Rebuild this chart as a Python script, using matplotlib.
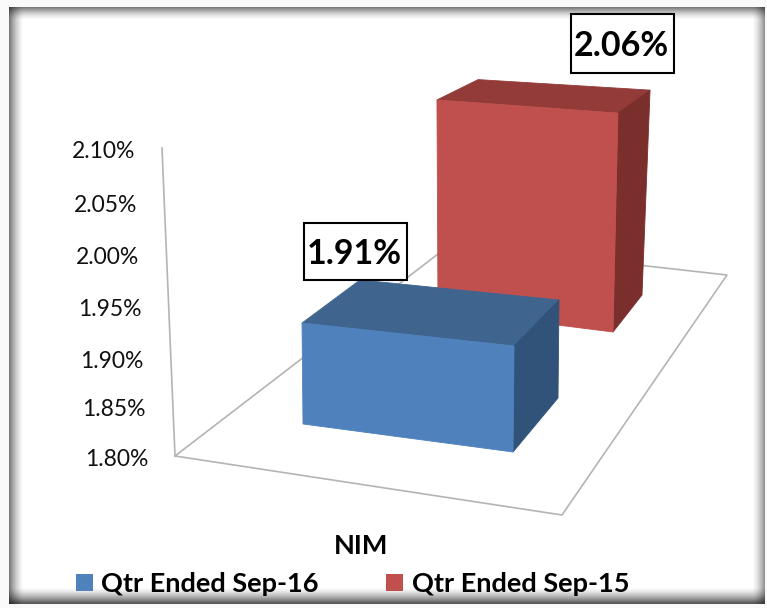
import numpy as np
import matplotlib
matplotlib.use("Agg")
import matplotlib.pyplot as plt
from matplotlib.patches import Polygon, Rectangle

# ---- data ----
categories = ["NIM"]
series_names = ["Qtr Ended Sep-16", "Qtr Ended Sep-15"]
series_values = [1.91, 2.06]
value_labels = ["1.91%", "2.06%"]
tick_values = [1.80, 1.85, 1.90, 1.95, 2.00, 2.05, 2.10]
tick_labels = ["1.80%", "1.85%", "1.90%", "1.95%", "2.00%", "2.05%", "2.10%"]

# ---- layout (pixel space of the picture) ----
W, H = 767, 608
BASE = 1.80
front_colors = ["#4F81BD", "#C0504D"]
top_colors = ["#3F658F", "#923B39"]
side_colors = ["#315379", "#7A2F2D"]
# footprint corner: base x, base y, px per unit of value, x drift per unit
footprints = [
    {"fl": (303, 424, 918, -9), "fr": (513, 452, 964, 9),
     "br": (558, 398, 891, 9), "bl": (360, 385, 955, 0)},
    {"fl": (438, 310, 808, -4), "fr": (613, 332, 842, 19),
     "br": (642, 295, 788, 31), "bl": (475, 285, 790, 12)},
]
label_boxes = [(304, 223, 103, 57), (571, 14, 103, 59)]
tick_y = [459, 410, 361, 309, 257, 205, 151]
floor_back_left = (175, 456)
axis_top = (162, 148)
floor = [(175, 456), (562, 515), (727, 275), (451, 244)]

plt.rcParams["font.family"] = ["Lato", "DejaVu Sans"]
fig = plt.figure(figsize=(W / 100, H / 100), dpi=100)
ax = fig.add_axes([0, 0, 1, 1])
ax.set_xlim(0, W)
ax.set_ylim(H, 0)
ax.axis("off")

# shadowed picture frame
xx, yy = np.meshgrid(np.arange(W) + 0.5, np.arange(H) + 0.5)
def fade(d, width, dark):
    return 1 - dark * np.clip(1 - d / width, 0, 1) ** 1.5
shade = (fade(xx - 9, 15, 0.55) * fade(yy - 7, 13, 0.55)
         * fade(765 - xx, 13, 0.45) * fade(603 - yy, 16, 0.65))
outside = (xx < 9) | (yy < 7) | (xx > 765) | (yy > 604)
shade[outside] = 0.98
ax.imshow(shade, cmap="gray", vmin=0, vmax=1, extent=(0, W, H, 0),
          aspect="auto", zorder=0, interpolation="bilinear")

# floor and wall line
line_style = dict(color="#b4b4b4", lw=1.2, zorder=1)
fx, fy = zip(*(floor + floor[:1]))
ax.plot(fx, fy, **line_style)
ax.plot([floor_back_left[0], axis_top[0]], [floor_back_left[1], axis_top[1]], **line_style)

# value axis labels
for v, lab, y in zip(tick_values, tick_labels, tick_y):
    frac = (v - BASE) / (tick_values[-1] - BASE)
    xr = floor_back_left[0] + (axis_top[0] - floor_back_left[0]) * frac - 27
    ax.text(xr, y, lab, ha="right", va="center", fontsize=16.5, color="#111111", zorder=3)

def lift(corner, value):
    x, y, ppu, drift = corner
    h = value - BASE
    return (x + drift * h, y - ppu * h)

def draw_bar(fp, value, cf, ct, cs, z):
    fl, fr, br, bl = fp["fl"], fp["fr"], fp["br"], fp["bl"]
    t = {k: lift(fp[k], value) for k in fp}
    faces = [
        ([t["bl"], t["br"], t["fr"], t["fl"]], ct),
        ([t["fr"], t["br"], br[:2], fr[:2]], cs),
        ([t["fl"], t["fr"], fr[:2], fl[:2]], cf),
    ]
    for pts, c in faces:
        ax.add_patch(Polygon(pts, closed=True, facecolor=c, edgecolor=c, lw=0.6, zorder=z))

# far bar first, near bar over it
for i in [1, 0]:
    draw_bar(footprints[i], series_values[i], front_colors[i], top_colors[i], side_colors[i], 2 + (1 - i))

# value labels in boxes
for lab, (bx, by, bw, bh) in zip(value_labels, label_boxes):
    ax.add_patch(Rectangle((bx, by), bw, bh, facecolor="white", edgecolor="black", lw=1.5, zorder=5))
    ax.text(bx + bw / 2 - 1, by + bh / 2, lab, ha="center", va="center_baseline",
            fontsize=24.5, fontweight="bold", color="black", zorder=6)

# category label
ax.text(361, 546, categories[0], ha="center", va="center", fontsize=19.5, fontweight="bold", color="black", zorder=5)

# legend
handles = [Rectangle((0, 0), 1, 1, facecolor=c, edgecolor="none") for c in front_colors]
leg = ax.legend(handles, series_names, ncols=2, loc="lower left", bbox_to_anchor=(76 / W, 1 - 596 / H),
                frameon=False, prop={"size": 19.5, "weight": "bold"}, borderpad=0, borderaxespad=0,
                handlelength=0.63, handleheight=0.63, handletextpad=0.3, columnspacing=2.5, labelcolor="black")
leg.set_zorder(5)

fig.savefig("out.png", dpi=100)
